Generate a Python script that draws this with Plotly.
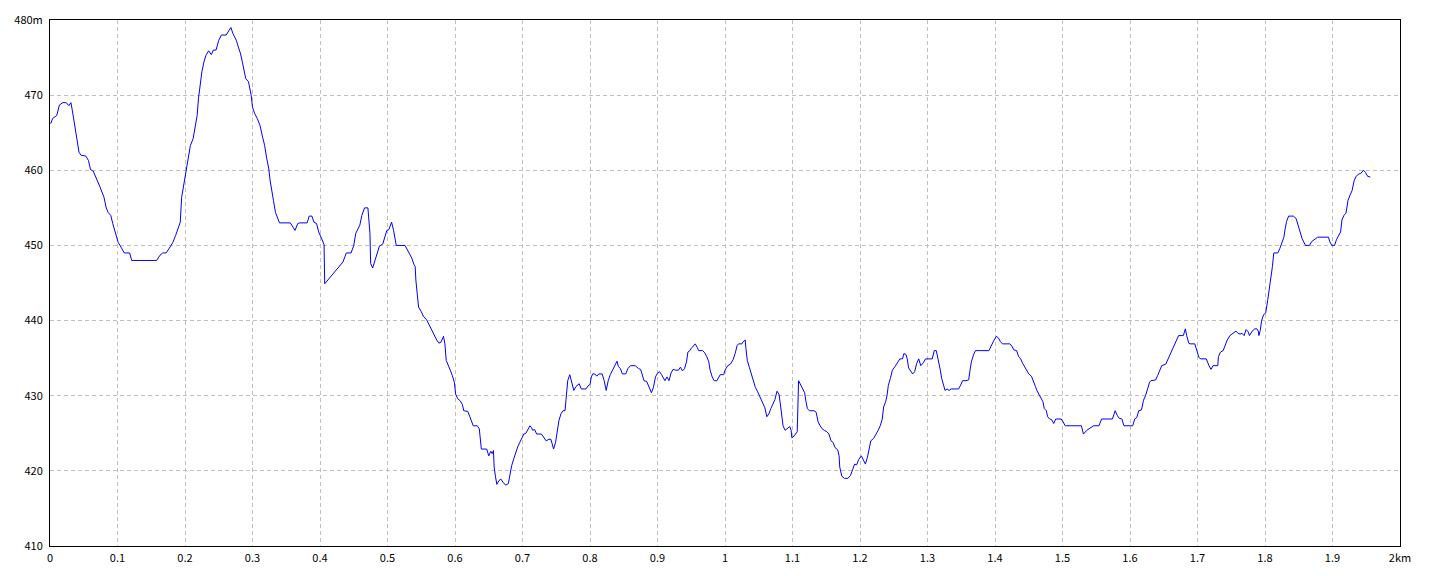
import plotly.graph_objects as go

# elevation profile (distance in km, elevation in m)
dist_km = [
    0.001, 0.004, 0.010, 0.014, 0.019, 0.024, 0.028, 0.031, 0.033, 0.037,
    0.040, 0.043, 0.046, 0.053, 0.057, 0.060, 0.064, 0.069, 0.074, 0.080,
    0.083, 0.086, 0.090, 0.093, 0.097, 0.101, 0.105, 0.110, 0.118, 0.121,
    0.158, 0.163, 0.167, 0.172, 0.178, 0.182, 0.186, 0.190, 0.193, 0.195,
    0.198, 0.200, 0.203, 0.205, 0.208, 0.212, 0.215, 0.218, 0.220, 0.222,
    0.225, 0.228, 0.231, 0.235, 0.239, 0.242, 0.246, 0.250, 0.254, 0.261,
    0.264, 0.268, 0.271, 0.276, 0.279, 0.282, 0.285, 0.288, 0.290, 0.294,
    0.296, 0.298, 0.300, 0.303, 0.307, 0.311, 0.315, 0.318, 0.321, 0.324,
    0.326, 0.329, 0.331, 0.334, 0.337, 0.340, 0.356, 0.360, 0.363, 0.367,
    0.370, 0.381, 0.384, 0.388, 0.391, 0.395, 0.398, 0.402, 0.406, 0.407,
    0.415, 0.424, 0.434, 0.439, 0.446, 0.450, 0.453, 0.459, 0.462, 0.466,
    0.471, 0.474, 0.475, 0.478, 0.481, 0.484, 0.488, 0.493, 0.497, 0.499,
    0.502, 0.504, 0.506, 0.509, 0.511, 0.513, 0.526, 0.531, 0.536, 0.539,
    0.541, 0.542, 0.544, 0.546, 0.550, 0.553, 0.558, 0.562, 0.565, 0.569,
    0.573, 0.576, 0.579, 0.583, 0.585, 0.587, 0.590, 0.593, 0.596, 0.599,
    0.601, 0.604, 0.608, 0.611, 0.613, 0.619, 0.622, 0.625, 0.627, 0.633,
    0.636, 0.637, 0.639, 0.647, 0.650, 0.653, 0.655, 0.657, 0.658, 0.660,
    0.662, 0.665, 0.668, 0.671, 0.675, 0.679, 0.681, 0.684, 0.687, 0.690,
    0.693, 0.696, 0.699, 0.702, 0.705, 0.708, 0.711, 0.713, 0.715, 0.718,
    0.721, 0.728, 0.731, 0.735, 0.739, 0.742, 0.744, 0.746, 0.749, 0.751,
    0.754, 0.757, 0.760, 0.763, 0.765, 0.767, 0.770, 0.772, 0.774, 0.776,
    0.779, 0.784, 0.787, 0.794, 0.797, 0.800, 0.802, 0.804, 0.807, 0.810,
    0.813, 0.818, 0.821, 0.824, 0.827, 0.830, 0.834, 0.837, 0.840, 0.842,
    0.845, 0.848, 0.853, 0.856, 0.860, 0.867, 0.872, 0.875, 0.878, 0.880,
    0.884, 0.887, 0.891, 0.894, 0.897, 0.900, 0.903, 0.906, 0.911, 0.914,
    0.917, 0.920, 0.923, 0.927, 0.931, 0.934, 0.937, 0.940, 0.943, 0.945,
    0.948, 0.950, 0.953, 0.956, 0.959, 0.961, 0.967, 0.970, 0.973, 0.976,
    0.978, 0.981, 0.984, 0.988, 0.993, 0.998, 1.000, 1.004, 1.008, 1.012,
    1.015, 1.018, 1.020, 1.025, 1.027, 1.030, 1.031, 1.033, 1.036, 1.039,
    1.042, 1.045, 1.048, 1.051, 1.054, 1.057, 1.059, 1.062, 1.065, 1.068,
    1.071, 1.074, 1.077, 1.080, 1.082, 1.084, 1.086, 1.089, 1.092, 1.096,
    1.098, 1.099, 1.101, 1.104, 1.107, 1.109, 1.112, 1.115, 1.118, 1.120,
    1.122, 1.125, 1.132, 1.135, 1.138, 1.141, 1.144, 1.147, 1.151, 1.154,
    1.157, 1.160, 1.163, 1.167, 1.169, 1.170, 1.173, 1.177, 1.182, 1.186,
    1.190, 1.192, 1.195, 1.198, 1.202, 1.205, 1.208, 1.211, 1.214, 1.216,
    1.220, 1.224, 1.227, 1.230, 1.233, 1.235, 1.238, 1.240, 1.242, 1.245,
    1.248, 1.252, 1.256, 1.259, 1.263, 1.265, 1.268, 1.270, 1.272, 1.275,
    1.278, 1.281, 1.284, 1.287, 1.290, 1.294, 1.297, 1.307, 1.310, 1.313,
    1.316, 1.319, 1.321, 1.323, 1.326, 1.329, 1.332, 1.335, 1.346, 1.349,
    1.352, 1.357, 1.361, 1.363, 1.365, 1.368, 1.371, 1.391, 1.394, 1.398,
    1.402, 1.405, 1.408, 1.411, 1.422, 1.425, 1.428, 1.432, 1.435, 1.438,
    1.441, 1.444, 1.447, 1.450, 1.454, 1.457, 1.460, 1.462, 1.465, 1.468,
    1.471, 1.473, 1.476, 1.478, 1.481, 1.484, 1.487, 1.490, 1.498, 1.501,
    1.504, 1.528, 1.531, 1.536, 1.542, 1.546, 1.554, 1.558, 1.574, 1.578,
    1.581, 1.584, 1.588, 1.591, 1.604, 1.607, 1.610, 1.613, 1.617, 1.620,
    1.623, 1.626, 1.629, 1.631, 1.638, 1.641, 1.644, 1.647, 1.653, 1.656,
    1.659, 1.662, 1.665, 1.668, 1.672, 1.679, 1.682, 1.684, 1.687, 1.689,
    1.696, 1.699, 1.702, 1.705, 1.713, 1.717, 1.720, 1.723, 1.730, 1.731,
    1.734, 1.738, 1.741, 1.744, 1.748, 1.753, 1.757, 1.760, 1.763, 1.766,
    1.769, 1.772, 1.775, 1.777, 1.781, 1.785, 1.788, 1.790, 1.791, 1.793,
    1.795, 1.798, 1.801, 1.804, 1.806, 1.809, 1.811, 1.813, 1.819, 1.822,
    1.825, 1.828, 1.830, 1.832, 1.835, 1.842, 1.846, 1.849, 1.852, 1.855,
    1.860, 1.866, 1.869, 1.873, 1.878, 1.894, 1.896, 1.899, 1.903, 1.906,
    1.909, 1.912, 1.914, 1.917, 1.920, 1.923, 1.926, 1.929, 1.932, 1.935,
    1.939, 1.942, 1.946, 1.949, 1.952, 1.956,
]

elev_m = [
    466.2, 466.9, 467.3, 468.7, 469.0, 469.0, 468.6, 469.0, 468.0, 465.6,
    463.8, 462.4, 462.0, 461.9, 461.3, 460.1, 459.9, 458.9, 457.8, 456.4,
    455.1, 454.4, 454.0, 452.9, 451.6, 450.4, 449.8, 449.0, 449.0, 448.0,
    448.0, 448.7, 449.0, 449.0, 449.8, 450.4, 451.3, 452.2, 453.1, 456.4,
    458.0, 459.3, 460.4, 462.0, 463.3, 464.2, 465.6, 467.3, 469.6, 471.3,
    473.1, 474.4, 475.3, 475.9, 475.4, 476.0, 476.0, 477.3, 478.0, 478.0,
    478.4, 479.0, 478.2, 477.3, 476.4, 475.6, 474.4, 473.3, 472.2, 471.8,
    471.1, 470.0, 468.4, 467.6, 466.9, 466.0, 464.4, 463.3, 461.6, 460.3,
    458.7, 457.3, 456.0, 454.4, 453.8, 453.0, 453.0, 452.4, 452.0, 452.9,
    453.0, 453.0, 453.9, 453.9, 453.1, 452.9, 451.8, 451.0, 450.1, 444.9,
    445.8, 446.7, 447.8, 449.0, 449.0, 450.0, 451.6, 452.7, 454.0, 455.0,
    455.0, 451.6, 447.6, 447.0, 447.8, 448.9, 449.9, 450.2, 451.6, 452.0,
    452.1, 452.7, 453.1, 452.0, 450.7, 450.0, 450.0, 449.2, 448.3, 447.5,
    447.2, 445.4, 443.4, 441.8, 441.2, 440.6, 440.1, 439.4, 438.7, 438.1,
    437.4, 437.0, 437.1, 437.9, 436.9, 434.7, 433.9, 433.4, 432.7, 431.8,
    430.2, 429.6, 429.3, 428.8, 428.0, 427.9, 427.2, 426.5, 426.0, 426.0,
    425.6, 424.7, 422.9, 422.9, 422.0, 422.6, 422.3, 422.7, 420.5, 419.2,
    418.2, 418.7, 418.9, 418.5, 418.1, 418.3, 419.4, 420.7, 421.6, 422.5,
    423.2, 423.8, 424.4, 424.9, 425.0, 425.6, 426.0, 425.8, 425.4, 425.5,
    424.9, 424.9, 424.5, 424.0, 424.2, 424.2, 423.6, 422.9, 423.8, 425.0,
    426.7, 427.6, 428.0, 428.0, 430.3, 432.0, 432.8, 432.0, 431.2, 430.7,
    431.2, 431.6, 430.9, 430.9, 431.3, 431.5, 432.5, 432.9, 432.9, 432.6,
    432.9, 432.9, 432.0, 430.7, 432.0, 432.8, 433.5, 434.0, 434.6, 433.9,
    433.6, 432.9, 432.9, 433.6, 434.0, 434.0, 433.6, 433.5, 432.7, 432.0,
    431.9, 431.2, 430.4, 431.1, 432.5, 433.0, 433.2, 432.8, 432.0, 432.5,
    432.0, 433.0, 433.5, 433.4, 433.4, 433.8, 433.3, 433.6, 434.5, 435.8,
    436.0, 436.3, 436.6, 436.9, 436.4, 436.0, 436.0, 435.7, 435.2, 434.5,
    433.4, 432.5, 432.0, 432.0, 432.8, 432.8, 433.4, 434.0, 434.2, 434.8,
    435.6, 436.7, 436.9, 436.9, 437.2, 437.4, 436.3, 434.7, 433.8, 432.9,
    432.1, 431.1, 430.6, 430.0, 429.4, 428.7, 428.4, 427.2, 427.6, 428.3,
    428.8, 429.5, 430.6, 430.2, 428.9, 427.2, 426.0, 425.4, 425.6, 425.9,
    425.4, 424.4, 424.5, 424.8, 425.2, 432.0, 431.4, 430.8, 430.4, 429.2,
    428.3, 428.0, 428.0, 427.8, 426.5, 426.0, 425.6, 425.4, 425.2, 424.9,
    424.0, 423.8, 423.1, 422.8, 422.0, 420.5, 419.3, 419.0, 419.0, 419.4,
    420.5, 420.9, 420.8, 421.5, 422.0, 421.4, 420.9, 421.8, 423.2, 424.0,
    424.3, 424.9, 425.4, 426.0, 426.9, 428.5, 429.2, 430.0, 431.4, 432.3,
    433.4, 433.9, 434.4, 434.9, 434.9, 435.6, 435.5, 434.9, 433.7, 433.2,
    432.9, 433.2, 434.3, 434.9, 434.0, 434.4, 434.9, 434.9, 436.0, 436.0,
    434.9, 433.4, 432.3, 431.6, 430.7, 430.9, 430.7, 430.9, 430.9, 431.4,
    432.0, 432.0, 432.1, 433.4, 434.5, 435.4, 436.0, 436.0, 436.6, 437.3,
    437.9, 437.7, 437.2, 436.9, 436.9, 436.6, 436.1, 436.0, 435.2, 434.9,
    434.3, 433.8, 433.4, 432.9, 432.6, 432.0, 431.2, 430.7, 430.2, 429.8,
    429.2, 428.3, 428.0, 427.2, 426.9, 426.8, 426.3, 426.9, 426.9, 426.5,
    426.0, 426.0, 424.9, 425.4, 425.7, 426.0, 426.0, 426.9, 426.9, 428.0,
    427.4, 427.0, 426.9, 426.0, 426.0, 426.9, 427.1, 428.0, 428.1, 429.4,
    430.0, 430.9, 431.8, 432.0, 432.1, 432.7, 433.4, 434.0, 434.2, 434.8,
    435.5, 436.0, 436.7, 437.4, 438.0, 438.0, 438.9, 438.0, 437.0, 436.9,
    436.9, 436.0, 435.1, 434.9, 434.9, 434.0, 433.5, 434.0, 434.0, 435.2,
    435.8, 436.0, 436.7, 437.4, 438.0, 438.3, 438.6, 438.3, 438.2, 438.3,
    438.0, 438.8, 438.5, 438.0, 438.6, 438.9, 438.9, 438.6, 438.0, 438.7,
    440.0, 440.8, 441.0, 442.7, 444.0, 445.6, 447.2, 449.0, 449.0, 449.6,
    450.3, 451.1, 452.3, 453.2, 453.9, 453.9, 453.6, 452.7, 451.6, 450.9,
    450.0, 450.0, 450.5, 450.8, 451.1, 451.1, 450.5, 450.0, 450.0, 450.8,
    451.4, 451.8, 453.4, 454.0, 454.3, 456.0, 456.7, 457.3, 458.6, 459.2,
    459.5, 459.6, 460.0, 459.7, 459.2, 459.1,
]

x_ticks = [0, 0.1, 0.2, 0.3, 0.4, 0.5, 0.6, 0.7, 0.8, 0.9, 1.0,
           1.1, 1.2, 1.3, 1.4, 1.5, 1.6, 1.7, 1.8, 1.9, 2.0]
x_labels = ["0", "0.1", "0.2", "0.3", "0.4", "0.5", "0.6", "0.7", "0.8", "0.9", "1",
            "1.1", "1.2", "1.3", "1.4", "1.5", "1.6", "1.7", "1.8", "1.9", "2km"]
y_ticks = [410, 420, 430, 440, 450, 460, 470, 480]
y_labels = ["410", "420", "430", "440", "450", "460", "470", "480m"]

fig = go.Figure()
fig.add_trace(go.Scatter(
    x=dist_km, y=elev_m, mode="lines",
    line=dict(color="#0000ff", width=1),
    showlegend=False, hoverinfo="x+y",
))

axis_common = dict(
    showline=True, linecolor="black", linewidth=1, mirror=True,
    showgrid=True, gridcolor="#c0c0c0", gridwidth=1, griddash="4px,3px",
    zeroline=False, ticks="", tickfont=dict(size=11, color="black"),
    automargin=False,
)
fig.update_xaxes(range=[0, 2], tickmode="array", tickvals=x_ticks, ticktext=x_labels,
                 ticklabelstandoff=2, **axis_common)
fig.update_yaxes(range=[410, 480], tickmode="array", tickvals=y_ticks, ticktext=y_labels,
                 ticklabelstandoff=4, **axis_common)

# page body has an 8px margin: figure is sized so the page fits the 1440x576 window
# and the frame lands at 50..1400 x 20..546
fig.update_layout(
    width=1424, height=560,
    margin=dict(l=42, r=32, t=12, b=22, autoexpand=False),
    plot_bgcolor="white", paper_bgcolor="white",
    font=dict(family="Noto Sans CJK JP, DejaVu Sans, sans-serif", size=11, color="black"),
)

fig.write_html("out.html")
